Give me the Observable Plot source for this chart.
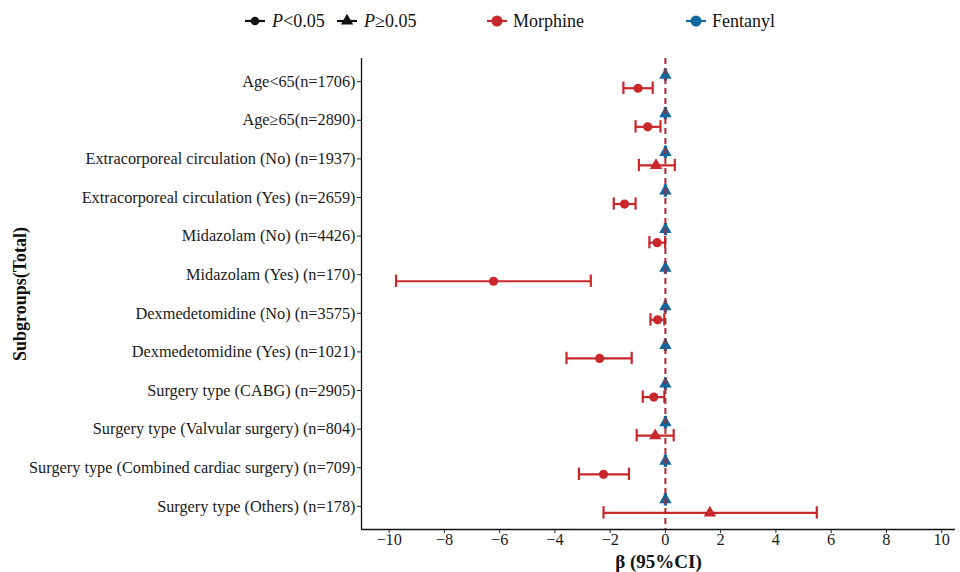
<!DOCTYPE html>
<html>
<head>
<meta charset="utf-8">
<script src="https://cdn.jsdelivr.net/npm/d3@7"></script>
<script src="https://cdn.jsdelivr.net/npm/@observablehq/plot@0.6"></script>
<style>
  html, body { margin: 0; padding: 0; background: #fff; }
  #wrap { width: 960px; font-family: "Liberation Serif", "Times New Roman", serif; }
  #legend { position: relative; width: 960px; height: 40px; font-size: 18px; color: #111; }
  #legend .item { position: absolute; top: 10px; height: 22px; line-height: 22px; white-space: nowrap; }
  #legend svg { position: absolute; top: 0; }
</style>
</head>
<body>
<div id="wrap">
  <div id="legend"></div>
  <div id="chart"></div>
</div>
<script>
// ---- data ----
const subgroups = [
  "Age<65(n=1706)",
  "Age\u226565(n=2890)",
  "Extracorporeal circulation (No) (n=1937)",
  "Extracorporeal circulation (Yes) (n=2659)",
  "Midazolam (No) (n=4426)",
  "Midazolam (Yes) (n=170)",
  "Dexmedetomidine (No) (n=3575)",
  "Dexmedetomidine (Yes) (n=1021)",
  "Surgery type (CABG) (n=2905)",
  "Surgery type (Valvular surgery) (n=804)",
  "Surgery type (Combined cardiac surgery) (n=709)",
  "Surgery type (Others) (n=178)"
];
const morphineBeta = [-0.99, -0.64, -0.34, -1.48, -0.30, -6.22, -0.28, -2.38, -0.42, -0.37, -2.24, 1.61];
const morphineLow  = [-1.52, -1.08, -0.96, -1.87, -0.58, -9.75, -0.54, -3.58, -0.82, -1.04, -3.13, -2.24];
const morphineHigh = [-0.46, -0.18, 0.34, -1.08, -0.01, -2.70, -0.04, -1.22, -0.04, 0.30, -1.32, 5.48];
const morphineSig  = [true, true, false, true, true, true, true, true, true, false, true, false];
const fentanylBeta = [0.00, 0.00, 0.00, 0.00, 0.00, 0.00, 0.00, 0.00, 0.00, 0.00, 0.00, 0.00];
const fentanylLow  = [-0.02, -0.02, -0.02, -0.02, -0.02, -0.02, -0.02, -0.02, -0.02, -0.02, -0.02, -0.02];
const fentanylHigh = [0.02, 0.02, 0.02, 0.02, 0.02, 0.02, 0.02, 0.02, 0.02, 0.02, 0.02, 0.02];
const fentanylSig  = [false, false, false, false, false, false, false, false, false, false, false, false];
const xTicks = [-10, -8, -6, -4, -2, 0, 2, 4, 6, 8, 10];
const drugs = ["Morphine", "Fentanyl"];
const colors = ["#C8282B", "#12679E"];

// ---- build table ----
const dodge = 0.17;   // vertical dodge (in band units)
const cap = 0.16;     // half-height of the CI caps
const rows = [];
subgroups.forEach((g, i) => {
  rows.push({drug: "Morphine", i, y: i + dodge, beta: morphineBeta[i], low: morphineLow[i], high: morphineHigh[i], sig: morphineSig[i]});
  rows.push({drug: "Fentanyl", i, y: i - dodge, beta: fentanylBeta[i], low: fentanylLow[i], high: fentanylHigh[i], sig: fentanylSig[i]});
});
const colorOf = d => colors[drugs.indexOf(d.drug)];
const fmt = v => (v < 0 ? "\u2212" + Math.abs(v) : String(v));

const chart = Plot.plot({
  width: 960,
  height: 532,
  marginLeft: 361,
  marginRight: 5,
  marginTop: 18,
  marginBottom: 43,
  style: {fontFamily: "Liberation Serif, Times New Roman, serif", fontSize: "16px", color: "#1a1a1a", background: "#fff"},
  x: {domain: [-11, 10.5]},
  y: {domain: [-0.6, subgroups.length - 0.4], reverse: true},
  marks: [
    Plot.axisX({ticks: xTicks, tickFormat: fmt, tickSize: 4, tickPadding: 0, label: null, fontSize: 16.3, stroke: "#222"}),
    Plot.axisY({ticks: d3.range(subgroups.length), tickFormat: i => subgroups[i], tickSize: 4, tickPadding: 2, label: null, fontSize: 16.3, stroke: "#222"}),
    Plot.ruleX([-11], {stroke: "#111", strokeWidth: 1.3}),
    Plot.ruleY([subgroups.length - 0.4], {stroke: "#111", strokeWidth: 1.3}),
    // CI lines
    Plot.ruleY(rows, {y: "y", x1: "low", x2: "high", stroke: colorOf, strokeWidth: 2.2}),
    Plot.ruleX(rows, {x: "low", y1: d => d.y - cap, y2: d => d.y + cap, stroke: colorOf, strokeWidth: 2.2}),
    Plot.ruleX(rows, {x: "high", y1: d => d.y - cap, y2: d => d.y + cap, stroke: colorOf, strokeWidth: 2.2}),
    // points
    Plot.dot(rows.filter(d => d.sig), {x: "beta", y: "y", symbol: "circle", r: 4.6, fill: colorOf, stroke: "none"}),
    Plot.dot(rows.filter(d => !d.sig), {x: "beta", y: "y", symbol: "triangle", r: 4.6, fill: colorOf, stroke: "none"}),
    // reference line
    Plot.ruleX([0], {stroke: "#B3262B", strokeWidth: 2, strokeDasharray: "6,4"}),
    // axis titles
    Plot.text(["\u03b2 (95%CI)"], {frameAnchor: "bottom", lineAnchor: "middle", dy: 32, fontSize: 19, fontWeight: "bold", fill: "#111"}),
    Plot.text(["Subgroups(Total)"], {frameAnchor: "left", textAnchor: "middle", lineAnchor: "middle", dx: -341, rotate: -90, fontSize: 18, fontWeight: "bold", fill: "#111"})
  ]
});
document.getElementById("chart").appendChild(chart);

// ---- legend ----
const legend = d3.select("#legend");
function key(x, color, symbol, big) {
  const s = legend.append("svg").attr("width", 24).attr("height", 40).style("left", (x) + "px");
  s.append("line").attr("x1", 2).attr("x2", 22).attr("y1", 21).attr("y2", 21).attr("stroke", color).attr("stroke-width", 2.2);
  if (symbol === "circle") s.append("circle").attr("cx", 12).attr("cy", 21).attr("r", big ? 5.5 : 4.3).attr("fill", color);
  else s.append("path").attr("d", d3.symbol(d3.symbolTriangle, 66)()).attr("transform", "translate(12,21)").attr("fill", color);
}
function label(x, html) {
  legend.append("div").attr("class", "item").style("left", x + "px").html(html);
}
key(243, "#111", "circle", false);
label(272, "<i>P</i>&lt;0.05");
key(335, "#111", "triangle", false);
label(364, "<i>P</i>\u22650.05");
key(485, colors[0], "circle", true);
label(513, drugs[0]);
key(684, colors[1], "circle", true);
label(712, drugs[1]);
</script>
</body>
</html>
